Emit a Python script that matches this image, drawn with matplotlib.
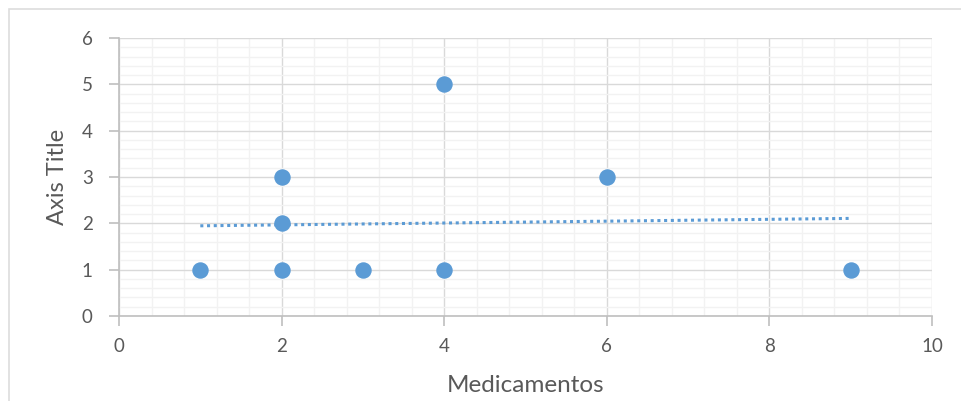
import numpy as np
import matplotlib.pyplot as plt
from matplotlib.ticker import MultipleLocator
from matplotlib.patches import Rectangle

# medication count vs. value
medicamentos = [1, 2, 3, 4, 9, 2, 2, 4, 6]
valores = [1, 1, 1, 1, 1, 2, 3, 5, 3]

blue = '#5B9BD5'
text_gray = '#595959'

plt.rcParams['font.family'] = ['Lato', 'DejaVu Sans']

fig = plt.figure(figsize=(9.62, 4.01), dpi=100)
ax = fig.add_axes([119 / 962, 1 - 316 / 401, (932 - 119) / 962, (316 - 38) / 401])

# chart border
fig.patches.append(Rectangle((9 / 962, -0.1), 1.1, 1 - 9 / 401 + 0.1, transform=fig.transFigure,
                             fill=False, edgecolor='#DDDDDD', linewidth=1.2))

ax.scatter(medicamentos, valores, s=140, color=blue, zorder=3, linewidths=0)

# linear trendline
slope, intercept = np.polyfit(medicamentos, valores, 1)
xt = np.array([min(medicamentos), max(medicamentos)])
ax.plot(xt, slope * xt + intercept, color=blue, lw=2.2, linestyle=(0, (1, 1.2)), zorder=2)

ax.set_xlim(0, 10)
ax.set_ylim(0, 6)
ax.xaxis.set_major_locator(MultipleLocator(2))
ax.xaxis.set_minor_locator(MultipleLocator(0.4))
ax.yaxis.set_major_locator(MultipleLocator(1))
ax.yaxis.set_minor_locator(MultipleLocator(0.2))

ax.grid(which='major', color='#D9D9D9', lw=1)
ax.grid(which='minor', color='#F2F2F2', lw=1)
ax.set_axisbelow(True)

for s in ['top', 'right']:
    ax.spines[s].set_visible(False)
for s in ['left', 'bottom']:
    ax.spines[s].set_color('#BFBFBF')
    ax.spines[s].set_linewidth(1.2)

ax.tick_params(which='major', length=7, color='#BFBFBF', width=1.2,
               labelsize=13.5, labelcolor=text_gray)
ax.tick_params(axis='x', which='major', pad=9)
ax.tick_params(axis='y', which='major', pad=12)
ax.tick_params(which='minor', length=0)

ax.set_xlabel('Medicamentos', fontsize=17.5, color=text_gray, labelpad=14)
ax.set_ylabel('Axis Title', fontsize=17, color=text_gray, labelpad=10)

fig.savefig('out.png', dpi=100)
